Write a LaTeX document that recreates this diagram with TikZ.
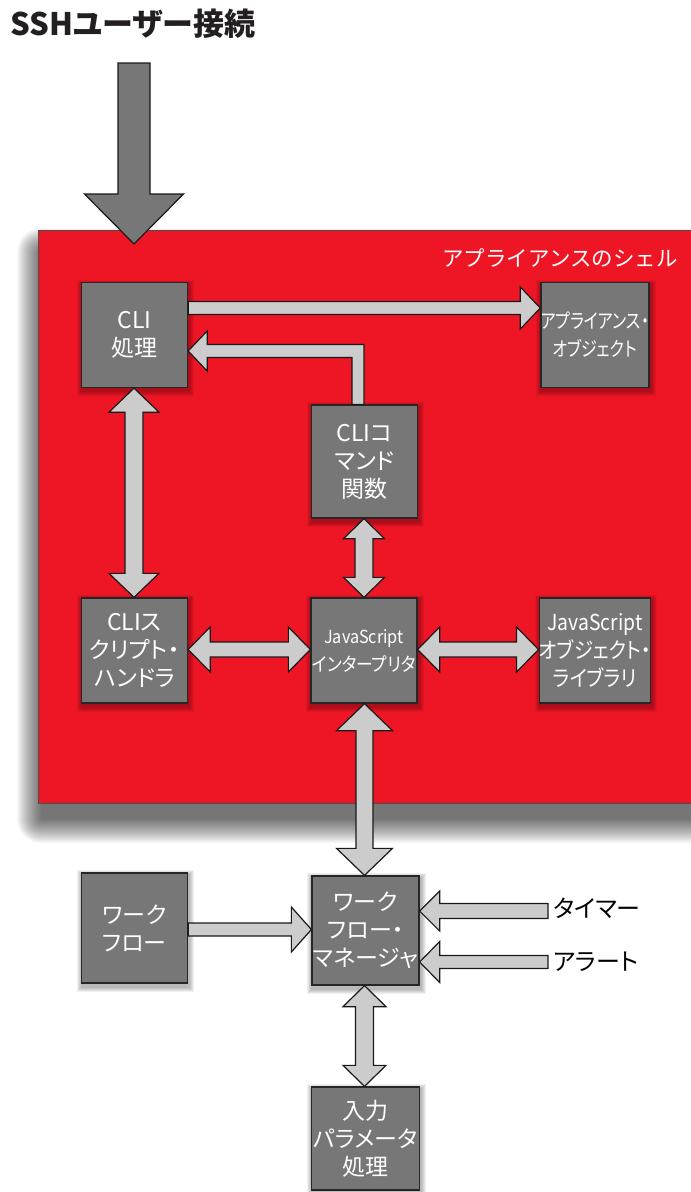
\documentclass[tikz,border=0pt]{standalone}
\usepackage{fontspec}
\usepackage{graphicx}
\newfontfamily\jp[RawFeature=+palt]{Noto Sans CJK JP}
\newfontfamily\jpfw{Noto Sans CJK JP}
\usetikzlibrary{calc}
\definecolor{shellred}{RGB}{238,22,37}
\definecolor{boxgray}{RGB}{119,119,119}
\definecolor{arrowgray}{RGB}{204,204,204}
\definecolor{titleblack}{RGB}{35,31,32}
\pgfdeclarelayer{back}
\pgfdeclarelayer{mid}
\pgfsetlayers{back,mid,main}

\tikzset{
  box/.style={draw=black!85, line width=1.3pt, fill=boxgray, text=white,
    inner sep=0pt, align=center, minimum width=106pt, minimum height=105pt,
    font=\jp\fontsize{23}{28}\selectfont},
  barrow/.style={draw=black!90, line width=1.2pt, fill=arrowgray, line join=miter},
  bigarrow/.style={draw=black!90, line width=1.2pt, fill=boxgray, line join=miter},
  sidelabel/.style={text=black, font=\jp\fontsize{24}{28}\selectfont, inner sep=0pt, anchor=west}
}

% single horizontal arrow from #1 to #2 (at y of #1)
\newcommand\harr[5]{\draw[barrow] let \p1=(#1),\p2=(#2),\n1={sign(\x2-\x1)*(#5)} in
 (\x1,\y1+#3) -- (\x2-\n1*1pt,\y1+#3) -- (\x2-\n1*1pt,\y1+#4) -- (\x2,\y1)
 -- (\x2-\n1*1pt,\y1-#4) -- (\x2-\n1*1pt,\y1-#3) -- (\x1,\y1-#3) -- cycle;}
% double horizontal arrow
\newcommand\hdarr[5]{\draw[barrow] let \p1=(#1),\p2=(#2),\n1={sign(\x2-\x1)*(#5)} in
 (\x1,\y1) -- (\x1+\n1*1pt,\y1+#4) -- (\x1+\n1*1pt,\y1+#3) -- (\x2-\n1*1pt,\y1+#3)
 -- (\x2-\n1*1pt,\y1+#4) -- (\x2,\y1) -- (\x2-\n1*1pt,\y1-#4) -- (\x2-\n1*1pt,\y1-#3)
 -- (\x1+\n1*1pt,\y1-#3) -- (\x1+\n1*1pt,\y1-#4) -- cycle;}
% double vertical arrow (at x of #1)
\newcommand\vdarr[5]{\draw[barrow] let \p1=(#1),\p2=(#2),\n1={sign(\y2-\y1)*(#5)} in
 (\x1,\y1) -- (\x1+#4,\y1+\n1*1pt) -- (\x1+#3,\y1+\n1*1pt) -- (\x1+#3,\y2-\n1*1pt)
 -- (\x1+#4,\y2-\n1*1pt) -- (\x1,\y2) -- (\x1-#4,\y2-\n1*1pt) -- (\x1-#3,\y2-\n1*1pt)
 -- (\x1-#3,\y1+\n1*1pt) -- (\x1-#4,\y1+\n1*1pt) -- cycle;}
% soft shadow of a node
\newcommand\bshadow[1]{\begin{pgfonlayer}{mid}
 \foreach \k in {1,...,5}{\fill[black,opacity=0.06] ([shift={({-\k+1},{-\k+3})}]#1.north west) rectangle ([shift={({\k+1},{\k+3})}]#1.south east);}
 \end{pgfonlayer}}

\begin{document}
\begin{tikzpicture}[x=1pt,y=-1pt]
\useasboundingbox (0,0) rectangle (691,1192);

% shell (red) with soft shadow, on the back layer
\begin{pgfonlayer}{back}
 \fill[white] (0,0) rectangle (691,1192);
 \foreach \k in {0,...,24}{\fill[black,opacity=0.027,rounded corners=\k*1pt] ({38+3-1.0*\k},{230+22-1.0*\k}) rectangle ({700+1.0*\k},{803+16+1.0*\k});}
 \fill[shellred, draw=black!70, line width=1pt] (38,230) rectangle (695,803);
\end{pgfonlayer}

% title
\node[anchor=west, inner sep=0pt, text=titleblack, font=\jp\bfseries\fontsize{31}{34}\selectfont] (title) at (10,24) {SSHユーザー接続};

\node[text=white, font=\jpfw\fontsize{21.5}{24}\selectfont, inner sep=0pt] (shell) at (560,258) {アプライアンスのシェル};

% boxes
\node[box] (cli) at (134.5,335) {CLI\\処理};
\node[box] (appobj) at (595,335) {\fontsize{20}{28}\selectfont\scalebox{0.8}[1]{アプライアンス・}\\\fontsize{20}{28}\selectfont\scalebox{0.8}[1]{オブジェクト}};
\node[box, minimum height=113pt] (clicmd) at (364.5,461.5) {CLIコ\\マンド\\関数};
\node[box] (script) at (134.5,650.5) {CLIス\\クリプト・\\ハンドラ};
\node[box] (jsi) at (364,650.5) {\fontsize{18}{24}\selectfont\scalebox{0.9}[1]{JavaScript}\\\fontsize{19}{24}\selectfont\scalebox{0.88}[1]{インタープリタ}};
\node[box] (jslib) at (595,650.5) {\fontsize{22}{27}\selectfont\scalebox{0.88}[1]{JavaScript}\\\fontsize{22}{27}\selectfont\scalebox{0.88}[1]{オブジェクト・}\\\fontsize{22}{27}\selectfont\scalebox{0.88}[1]{ライブラリ}};
\node[box, minimum height=110pt] (wf) at (134.5,928) {ワーク\\フロー};
\node[box, minimum height=109pt, minimum width=107pt] (wfm) at (365.5,930.5) {ワーク\\フロー・\\マネージャ};
\node[box, minimum height=103pt, minimum width=108pt] (input) at (365.5,1138.5) {入力\\パラメータ\\処理};

\foreach \n in {cli,appobj,clicmd,script,jsi,jslib,wf,wfm,input}{\bshadow{\n}}

% side labels
\node[sidelabel] (timer) at (553,908) {タイマー};
\node[sidelabel] (alert) at (553,962) {アラート};

% SSH big arrow
\coordinate (sshstart) at (134,63);
\coordinate (sshend) at (134,244);
\draw[bigarrow] let \p1=(sshstart),\p2=(sshend) in
 (\x1-16pt,\y1) -- (\x1-16pt,\y2+50pt) -- (\x1-49.5pt,\y2+50pt) -- (\x1,\y2)
 -- (\x1+49.5pt,\y2+50pt) -- (\x1+16pt,\y2+50pt) -- (\x1+16pt,\y1) -- cycle;

% connectors
\harr{$(cli.east)+(0,-27)$}{$(appobj.west)+(0,-27)$}{6.5pt}{21pt}{20}
\draw[barrow] let \p1=($(clicmd.north)+(-6.5,0)$), \p2=($(cli.east)+(0,16)$) in
 (\x1-6pt,\y1) -- (\x1-6pt,\y2-6.5pt) -- (\x2+19pt,\y2-6.5pt) -- (\x2+19pt,\y2-20pt) -- (\x2,\y2)
 -- (\x2+19pt,\y2+20pt) -- (\x2+19pt,\y2+6.5pt) -- (\x1+6pt,\y2+6.5pt) -- (\x1+6pt,\y1) -- cycle;
\vdarr{$(cli.south)+(-0.5,0)$}{script.north}{9pt}{25pt}{24}
\vdarr{$(clicmd.south)+(-0.5,0)$}{jsi.north}{9pt}{20.5pt}{20}
\hdarr{$(script.east)+(0,-1)$}{jsi.west}{7.5pt}{22.5pt}{22}
\hdarr{$(jsi.east)+(0,-1)$}{jslib.west}{7.5pt}{22.5pt}{22}
\vdarr{$(jsi.south)+(0.5,0)$}{wfm.north}{8.5pt}{28pt}{27}
\harr{$(wf.east)+(0,1.5)$}{wfm.west}{6.5pt}{22.5pt}{20}
\harr{$(timer.west)+(-5,3)$}{wfm.east}{7.5pt}{20pt}{20}
\harr{$(alert.west)+(-5,0)$}{wfm.east}{6.5pt}{20.5pt}{20}
\vdarr{$(wfm.south)+(-1,0)$}{input.north}{9pt}{21.5pt}{21}
\end{tikzpicture}
\end{document}
